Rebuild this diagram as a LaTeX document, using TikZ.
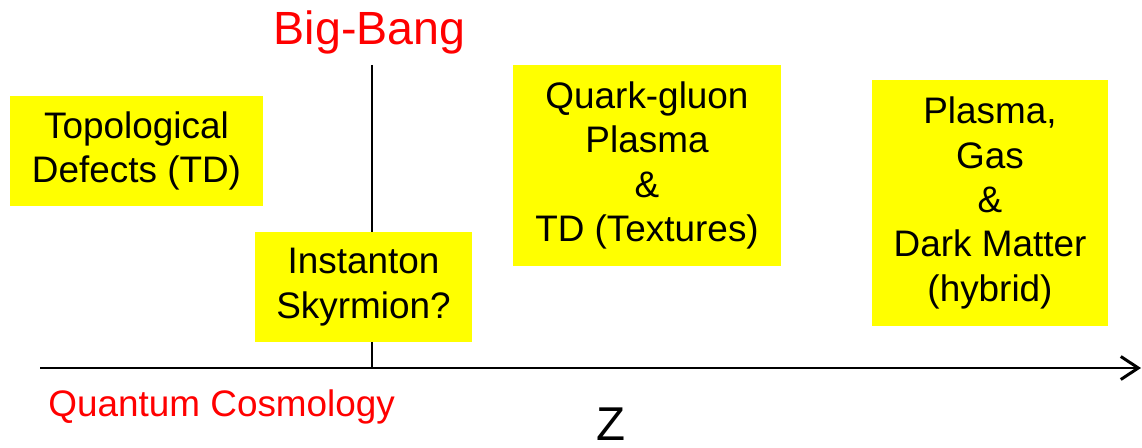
\documentclass[tikz,border=0pt]{standalone}
\usepackage{fontspec}
\setmainfont{Liberation Sans}
\usetikzlibrary{positioning,arrows.meta}
\definecolor{phYellow}{RGB}{255,255,0}
\definecolor{bbRed}{RGB}{255,0,0}
\tikzset{
  phase/.style={rectangle, fill=phYellow, inner sep=0pt, align=center,
                font=\fontsize{21}{25.3}\selectfont},
  era/.style={inner sep=0pt, anchor=base, text=bbRed},
  zaxis/.style={-{Straight Barb[length=3.5mm,width=4.6mm]}, line width=1.7pt},
  bbline/.style={line width=1.1pt},
}

\begin{document}
\begin{tikzpicture}
  \useasboundingbox (0,0) rectangle (22.84,-8.96);

  %====================== AXES ======================
  \coordinate (zstart) at (0.8,-7.36);
  \coordinate (zend)   at (22.82,-7.36);
  \coordinate (bbtop)  at (7.44,-1.3);
  \coordinate (bbbot)  at (7.44,-7.36);

  \draw[bbline] (bbtop) -- (bbbot);
  \draw[zaxis] (zstart) -- (zend);

  %====================== LABELS ======================
  \node[era, font=\fontsize{26.5}{30}\selectfont] (bigbang) at (7.39,-0.9) {Big-Bang};
  \node[era, font=\fontsize{21}{25}\selectfont, anchor=base west] (qcosmo) at (0.96,-8.32) {Quantum Cosmology};
  \node[inner sep=0pt, anchor=base, font=\fontsize{27}{30}\selectfont] (zlbl) at (12.22,-8.8) {Z};

  %====================== PHASES ======================
  \node[phase, minimum width=5.06cm, minimum height=2.2cm] (td) at (2.73,-3.02)
    {Topological\\Defects (TD)};
  \node[phase, minimum width=4.34cm, minimum height=2.2cm] (inst) at (7.27,-5.74)
    {Instanton\\Skyrmion?};
  \node[phase, minimum width=5.36cm, minimum height=4.02cm] (qgp) at (12.94,-3.31)
    {Quark-gluon\\Plasma\\\&\\TD (Textures)};
  \node[phase, minimum width=4.72cm, minimum height=4.92cm] (dm) at (19.8,-4.06)
    {Plasma,\\Gas\\\&\\Dark Matter\\(hybrid)};

\end{tikzpicture}
\end{document}
